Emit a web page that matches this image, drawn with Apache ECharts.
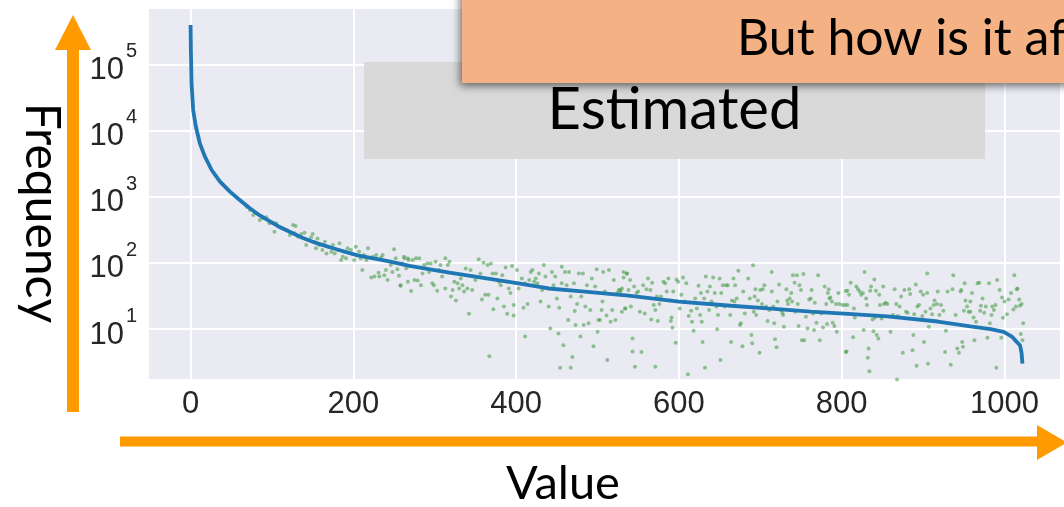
<!DOCTYPE html>
<html>
<head>
<meta charset="utf-8">
<script src="https://cdn.jsdelivr.net/npm/echarts@6.0.0/dist/echarts.min.js"></script>
<style>
html,body{margin:0;padding:0;background:#fff;overflow:hidden;}
#chart{width:1064px;height:507px;}
</style>
</head>
<body>
<div id="chart"></div>
<script>
// ---- data ----
const xTicks = [0, 200, 400, 600, 800, 1000];
const yTickExponents = [1, 2, 3, 4, 5];

// estimated (sorted) frequency curve
const lineX = [0, 0.4, 1.2, 3.2, 6.5, 11.4, 17.5, 25.7, 35.9, 48, 60, 72, 85, 108, 138, 154, 175, 205, 244, 269, 318, 399, 440, 481, 538, 600, 664, 709, 762, 808, 856, 918, 958, 983, 999, 1009, 1015, 1019, 1020, 1021, 1022];
const lineY = [393000, 164000, 51600, 20400, 11400, 6400, 4050, 2550, 1700, 1200, 900, 680, 520, 355, 237, 200, 166, 130, 105, 90, 71, 50, 41, 37, 32, 26, 22.5, 20.5, 18.4, 17, 15.5, 13, 11, 10, 9.1, 7.7, 6.4, 5.7, 5, 4.3, 3];

// observed frequencies (scatter)
const scatterX = [
69,73,77,81,85,89,93,97,101,103,105,109,113,118,122,126,129,128,132,136,140,142,144,148,150,152,154,156,158,162,165,167,169,173,175,177,181,183,185,187,189,191,193,197,201,203,207,209,211,213,216,218,222,224,226,228,231,232,234,236,238,240,242,246,248,250,252,254,256,258,260,263,265,267,268,
258,262,267,271,273,275,277,281,279,283,285,287,291,293,295,297,299,301,303,305,307,309,313,313,316,318,320,322,324,326,328,330,332,334,336,338,340,342,344,346,348,350,354,356,358,360,362,365,366,369,371,372,375,377,379,381,383,385,387,389,391,393,395,397,397,401,403,407,409,411,411,414,416,418,420,422,424,426,428,430,432,434,436,438,440,442,444,446,448,450,452,453,456,456,458,460,462,464,465,467,469,471,472,473,475,477,479,480,482,483,485,487,489,491,493,495,497,499,500,501,503,505,506,507,509,511,512,514,516,518,520,522,524,526,528,530,532,534,536,367,454,467,
528,530,532,534,536,538,540,541,543,543,545,546,548,550,552,554,556,558,560,562,565,567,566,569,571,571,573,574,576,578,581,583,585,587,589,590,591,592,593,596,597,599,601,603,605,607,609,611,612,615,616,618,620,622,624,626,627,628,629,631,632,633,635,637,638,640,642,644,646,647,648,650,651,652,654,656,658,660,663,664,665,667,668,669,671,673,675,676,678,679,681,685,687,689,690,691,692,693,694,695,697,699,700,702,703,705,707,709,711,714,714,716,717,718,720,721,723,725,727,728,729,732,733,734,736,738,739,740,742,743,745,746,747,748,750,751,753,754,756,758,760,762,763,765,766,767,769,771,773,775,777,779,781,782,783,784,785,786,788,789,791,793,794,796,797,805,807,807,
801,804,805,806,809,811,814,815,816,818,820,822,824,826,827,828,830,831,832,833,834,835,836,838,839,840,841,842,843,845,846,847,849,851,852,854,856,860,863,865,867,868,869,871,873,875,877,879,881,883,884,887,888,889,891,892,893,895,897,899,900,901,903,905,905,906,907,909,911,913,914,917,918,920,922,925,927,928,930,934,936,937,940,942,944,946,947,948,949,950,951,952,954,956,958,958,960,962,963,965,967,969,970,971,973,975,977,979,981,982,984,985,987,989,990,991,994,996,997,998,1000,1003,1005,1008,1011,1012,1014,1015,1016,1018,1019,1020,1021,1022,1023
];
const scatterY = [
705,628,527,560,444,470,487,395,404,296,395,352,332,313,263,372,360,279,248,272,285,186,221,243,272,208,166,234,186,156,208,139,175,147,186,139,156,197,110,124,147,117,166,156,110,175,147,117,78,131,110,166,60,124,62,131,71,62,121,131,65,78,55,93,73,160,117,80,64,45,98,117,83,52,110,
46,124,117,37.5,110,55,117,117,54,46,69,93,98,73,98,49,46,104,38,78,93,62,117,41,93,104,31,39,52,27,49,41,58,46,37,82,41,17,78,39,62,55,113,69,28,100,33,93,33,98,69,20,69,29,52,46,65,22,85,17,41,35,90,16,23,78,41,58,21,7.7,49,24,55,73,78,52,58,49,69,26,39,93,62,41,22,10.2,73,46,62,29,8.6,21,87,49,5.7,73,46,13.7,73,31,3.8,49,18.7,11.5,24,69,7.7,31,69,11.5,22,46,12.2,19.4,58,5.5,44,80,9.1,13.7,13.7,19.4,26,73,37,16,3.4,78,12.9,19.4,55,13.7,35,39,37,41,73,20.5,69,3.9,2.6,2.6,
39,18.2,60,20.5,69,39,55,22,7.2,4.6,44,2.7,35,37,18.2,4.5,46,17.2,40,58,39,50,14,23,19.4,2.7,31,13.2,24,31,52,49,37,58,27,13.2,15,10.5,37,6.2,56,52,20.5,33,60,26,49,2.07,15.7,18.9,12.9,9.4,29,20.5,45,16.3,35,12.9,6.4,29,2.6,62,37,19.4,44,26,60,35,22,9.9,16.3,58,3.4,35,46,22,46,46,16.3,6.4,27,58,26,46,29,76,11.5,12.2,5.5,37,17.2,58,29,8.1,6.1,92,18.2,31,40,16.3,27,4.4,39,24,40,46,22,13.2,19.4,73,37,22,12.2,7.0,5.3,26,47,19.4,17.6,16.3,10.8,40,27,24,29,35,26,65,50,18.2,65,24,11.1,46,39,6.8,68,6.8,15.4,10.2,28,29,39,17.2,9.7,25,12.4,65,6.8,17.2,10.6,44,24,11.9,35,40,29,30,26,12.4,11.1,24,9.1,35,24,4.5,38,23,
23,23,37.5,4.6,33,50,7.5,20.5,15,44,40,37,33,35,9.7,73,29,23,3.7,5.1,2.3,38,44,14,9.3,56,15,38,8.1,7.2,33,23,14.5,44,24,25,24,9.1,16.3,40,24,1.73,15.7,22,31,4.4,39,18.2,17.6,40,34,4.8,8.1,16.8,47,2.8,22,23,37,15.7,33,6.4,18.2,35,69,3.0,10.8,20.5,16.8,23,27,24,37,16.3,23,18.9,4.5,9.4,37,2.9,40,65,16.3,5.1,4.4,37,39,6.4,5.4,18.9,49,27,22,18.2,26,18.2,35,15,6.8,12.9,49,50,18.9,22.5,29,17.6,22,7.4,49,12.2,16.3,22,19.4,23,2.6,55,39,7.4,30,14.8,26,16.8,28,35,19.8,65,22,40,41,28,22.5,8.4,24,6.8,12.2
];

// ---- chart ----
const lineData = lineX.map((x, i) => [x, lineY[i]]);
const scatterData = scatterX.map((x, i) => [x, scatterY[i]]);

const tickFont = '"Liberation Sans", Arial, sans-serif';
const textFont = 'Lato, "Open Sans", sans-serif';
const orange = '#FF9A00';
const Y_MIN = 1.70, Y_MAX = 708000;

function powerExponent(v) {
  const e = Math.log10(v);
  const k = Math.round(e);
  return (Math.abs(e - k) < 1e-6 && yTickExponents.indexOf(k) >= 0) ? k : null;
}

const chart = echarts.init(document.getElementById('chart'), null, {renderer: 'canvas'});
chart.setOption({
  animation: false,
  backgroundColor: '#ffffff',
  grid: {left: 148, top: 8, right: 0, bottom: 127, show: true, backgroundColor: '#EAEAF2', borderWidth: 0, containLabel: false},
  xAxis: {
    type: 'value', min: -52.3, max: 1069.4,
    axisLine: {show: false}, axisTick: {show: false},
    splitLine: {show: true, lineStyle: {color: '#ffffff', width: 2}},
    axisLabel: {
      margin: 9, color: '#262626', fontSize: 31, fontFamily: tickFont,
      formatter: v => xTicks.indexOf(Math.round(v)) >= 0 && Math.abs(v - Math.round(v)) < 1e-6 ? String(Math.round(v)) : ''
    }
  },
  yAxis: [
    {
      type: 'log', logBase: 10, min: Y_MIN, max: Y_MAX, position: 'left',
      axisLine: {show: false}, axisTick: {show: false},
      splitLine: {show: true, lineStyle: {color: '#ffffff', width: 2}},
      axisLabel: {
        margin: 24, color: '#262626', fontFamily: tickFont, fontSize: 31, lineHeight: 12,
        verticalAlign: 'top',
        formatter: v => powerExponent(v) !== null ? '10' : ''
      }
    },
    {
      // exponent (superscript) labels on the same log scale
      type: 'log', logBase: 10, min: Y_MIN, max: Y_MAX, position: 'left', offset: 0,
      axisLine: {show: false}, axisTick: {show: false}, splitLine: {show: false},
      axisLabel: {
        margin: 11, color: '#262626', fontFamily: tickFont, fontSize: 20, lineHeight: 25,
        verticalAlign: 'bottom',
        formatter: v => { const k = powerExponent(v); return k !== null ? String(k) : ''; }
      }
    }
  ],
  series: [
    {
      type: 'scatter', data: scatterData, symbolSize: 4, z: 2, yAxisIndex: 0,
      itemStyle: {color: 'rgba(72,158,72,0.72)'}
    },
    {
      type: 'line', data: lineData, showSymbol: false, z: 3, yAxisIndex: 0,
      lineStyle: {color: '#1f77b4', width: 3.8}
    }
  ],
  graphic: [
    {type: 'rect', shape: {x: 67, y: 48, width: 12, height: 364}, style: {fill: orange}, z: 10},
    {type: 'polygon', shape: {points: [[55, 50], [91, 50], [73, 15]]}, style: {fill: orange}, z: 10},
    {type: 'rect', shape: {x: 120, y: 436.5, width: 920, height: 10}, style: {fill: orange}, z: 10},
    {type: 'polygon', shape: {points: [[1037, 425], [1037, 460], [1067, 442.5]]}, style: {fill: orange}, z: 10},
    {type: 'text', x: 41, y: 213, rotation: -Math.PI / 2, z: 10,
      style: {text: 'Frequency', font: '48px ' + textFont, fill: '#000', textAlign: 'center', textVerticalAlign: 'middle'}},
    {type: 'text', x: 563, y: 484, z: 10,
      style: {text: 'Value', font: '47px ' + textFont, fill: '#000', textAlign: 'center', textVerticalAlign: 'middle'}},
    {type: 'rect', shape: {x: 364, y: 62, width: 621, height: 97}, style: {fill: '#D9D9D9'}, z: 20},
    {type: 'text', x: 674.5, y: 110.5, z: 21,
      style: {text: 'Estimated', font: '58px ' + textFont, fill: '#000', textAlign: 'center', textVerticalAlign: 'middle'}},
    {type: 'rect', shape: {x: 462, y: -20, width: 640, height: 103}, z: 30,
      style: {fill: '#F4B183', shadowBlur: 8, shadowColor: 'rgba(0,0,0,0.55)', shadowOffsetX: -2, shadowOffsetY: 3}},
    {type: 'text', x: 737, y: 38.5, z: 31,
      style: {text: 'But how is it af', font: '50px ' + textFont, fill: '#000', textAlign: 'left', textVerticalAlign: 'middle'}}
  ]
});
</script>
</body>
</html>
